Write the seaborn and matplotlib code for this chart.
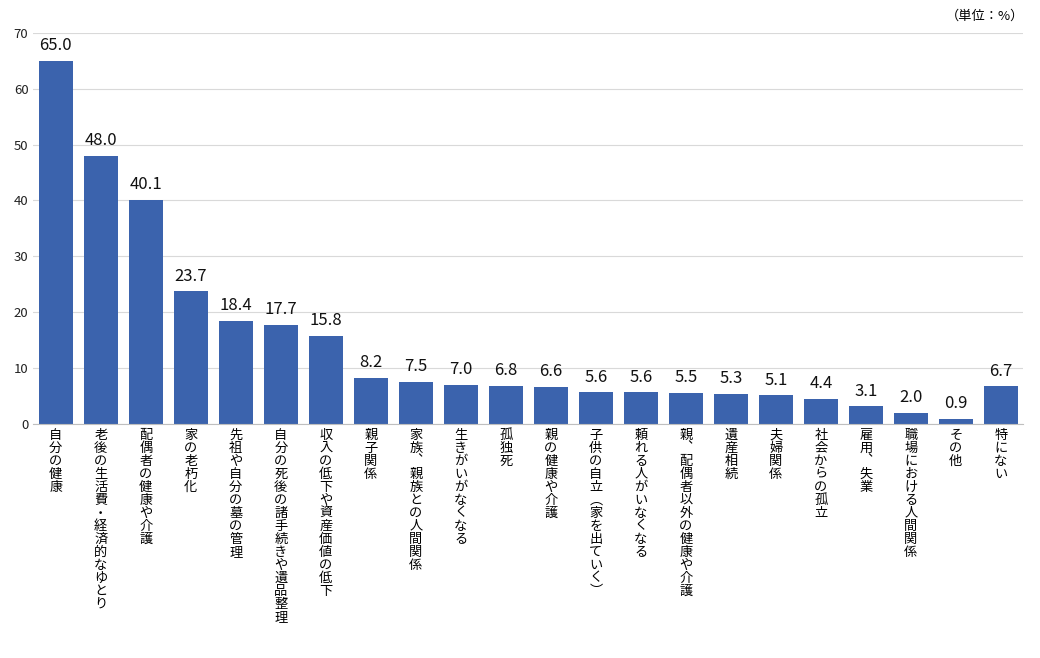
import matplotlib
matplotlib.use("Agg")
import matplotlib.pyplot as plt
import seaborn as sns
import pandas as pd

categories = ["自分の健康", "老後の生活費・経済的なゆとり", "配偶者の健康や介護", "家の老朽化",
              "先祖や自分の墓の管理", "自分の死後の諸手続きや遺品整理", "収入の低下や資産価値の低下",
              "親子関係", "家族、親族との人間関係", "生きがいがなくなる", "孤独死", "親の健康や介護",
              "子供の自立(家を出ていく)", "頼れる人がいなくなる", "親、配偶者以外の健康や介護",
              "遺産相続", "夫婦関係", "社会からの孤立", "雇用、失業", "職場における人間関係",
              "その他", "特にない"]
values = [65.0, 48.0, 40.1, 23.7, 18.4, 17.7, 15.8, 8.2, 7.5, 7.0, 6.8, 6.6,
          5.6, 5.6, 5.5, 5.3, 5.1, 4.4, 3.1, 2.0, 0.9, 6.7]
yticks = [0, 10, 20, 30, 40, 50, 60, 70]

plt.rcParams["font.family"] = ["Noto Sans CJK JP", "DejaVu Sans"]
fig = plt.figure(figsize=(10.4, 6.58), dpi=100)
ax = fig.add_axes([0.032, 0.356, 0.952, 0.594])
df = pd.DataFrame({"cat": categories, "val": values})
sns.barplot(data=df, x="cat", y="val", color="#3b63ad", saturation=1, width=0.75, ax=ax)
ax.set_ylim(0, 70)
ax.set_yticks(yticks)
ax.grid(axis="y", color="#d9d9d9", linewidth=0.8)
ax.set_axisbelow(True)
for s in ["top", "right", "left"]:
    ax.spines[s].set_visible(False)
ax.spines["bottom"].set_color("#bfbfbf")
ax.tick_params(axis="y", length=0, labelsize=9.5, colors="#222222")
ax.tick_params(axis="x", length=0)
ax.set_xlabel(""); ax.set_ylabel("")
def vert(s):
    s = s.replace("(", "︵").replace(")", "︶").replace("、", "︑")
    return "\n".join(s)
ax.set_xticks(range(len(categories)))
ax.set_xticklabels([vert(c) for c in categories], fontsize=9.5, linespacing=1.0,
                   va="top", ha="center")
for lbl in ax.get_xticklabels():
    lbl.set_x(lbl.get_position()[0])
for i, v in enumerate(values):
    ax.text(i, v + 1.2, f"{v:.1f}", ha="center", va="bottom", fontsize=12, color="#111111")
fig.text(0.985, 0.975, "（単位：%）", ha="right", va="center", fontsize=9.5)
fig.savefig("out.png", dpi=100)
